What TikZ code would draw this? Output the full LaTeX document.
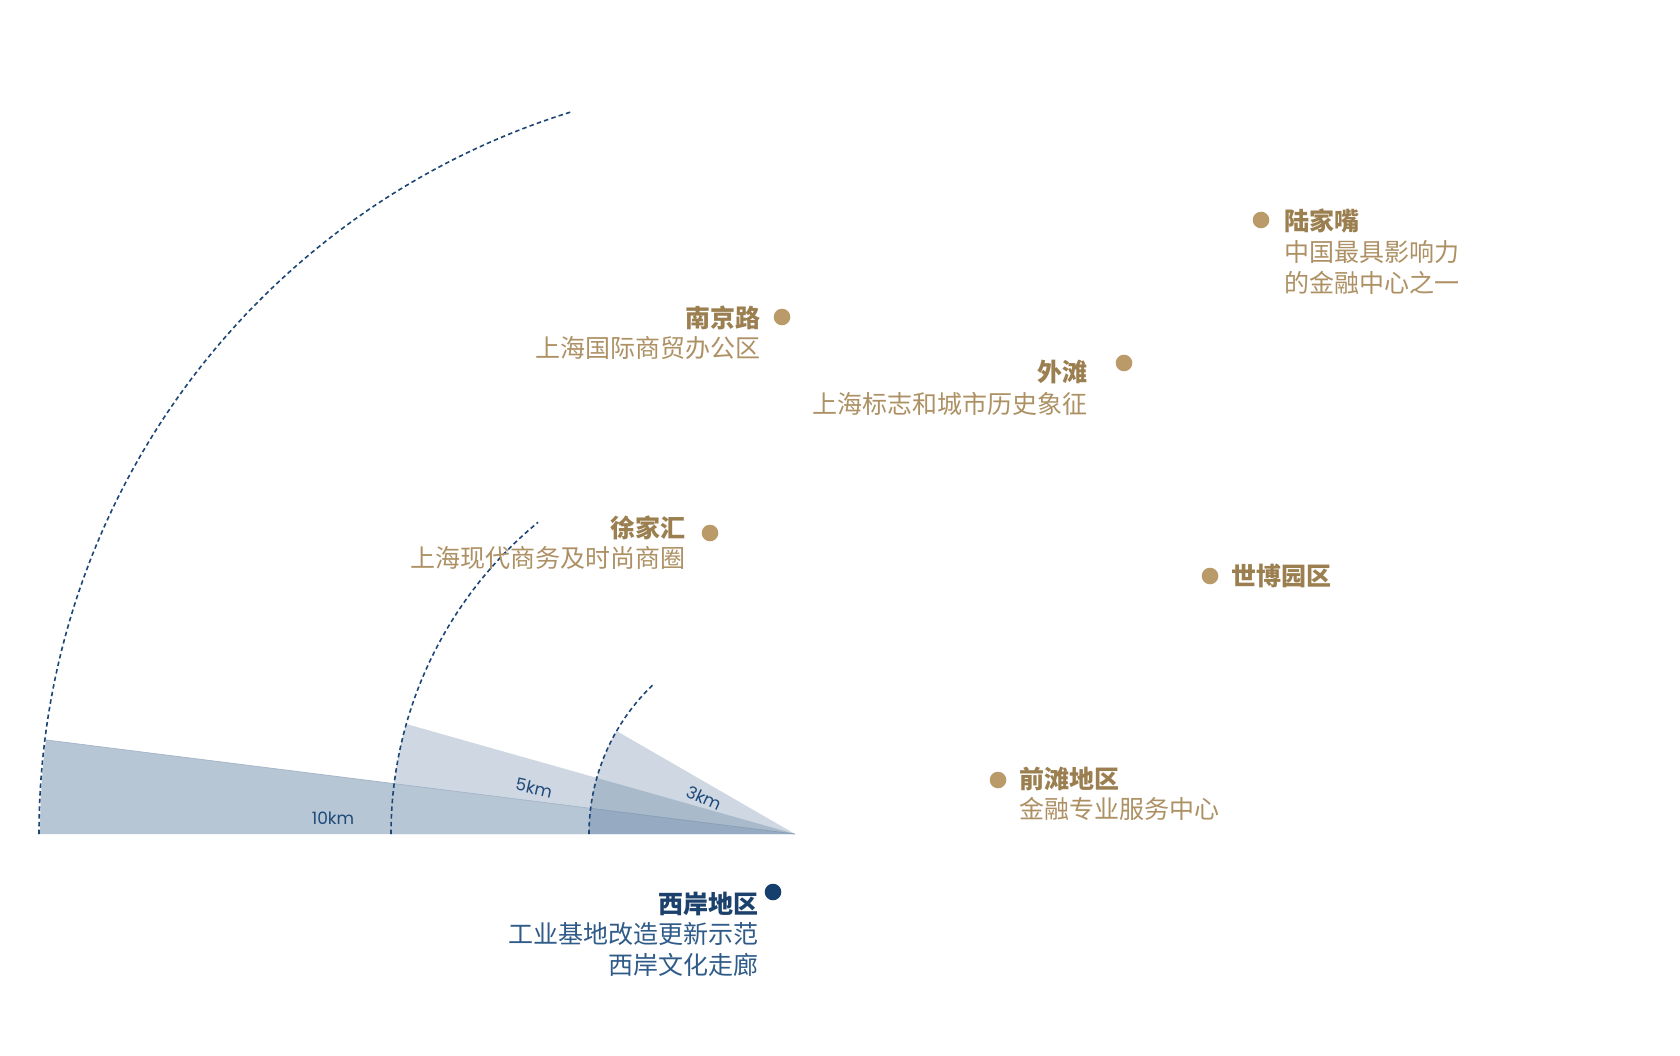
\documentclass[tikz,border=0pt]{standalone}
\usepackage{fontspec}
\newfontfamily\cjk{Noto Sans CJK SC}
\newfontfamily\kmfont{Poppins}
\definecolor{golddot}{HTML}{BA9A69}
\definecolor{goldtitle}{HTML}{9B7F50}
\definecolor{goldsub}{HTML}{AD9164}
\definecolor{navydot}{HTML}{15406E}
\definecolor{navytitle}{HTML}{1B416C}
\definecolor{navysub}{HTML}{2F5B88}
\definecolor{arcc}{HTML}{1D4677}
\definecolor{navyb}{HTML}{1E4B78}
\definecolor{tenc}{HTML}{B7C6D5}
\definecolor{edgec}{HTML}{A3B4C6}
\definecolor{kmc}{HTML}{1E4A7A}
\begin{document}
\begin{tikzpicture}[x=1pt,y=-1pt,
  gdot/.style={circle,fill=golddot,inner sep=0pt,minimum size=16.6pt},
  ndot/.style={circle,fill=navydot,inner sep=0pt,minimum size=16.6pt},
  gtitle/.style={inner sep=0pt,font=\cjk\bfseries\fontsize{25}{30}\selectfont,text=goldtitle},
  gsub/.style={inner sep=0pt,font=\cjk\fontsize{25}{30}\selectfont,text=goldsub},
  ntitle/.style={inner sep=0pt,font=\cjk\bfseries\fontsize{25}{30}\selectfont,text=navytitle},
  nsub/.style={inner sep=0pt,font=\cjk\fontsize{25}{30}\selectfont,text=navysub},
  arcline/.style={draw=arcc,line width=1.6pt,dash pattern=on 4.5pt off 3.2pt},
  kmlabel/.style={inner sep=0pt,font=\kmfont\fontsize{17}{19}\selectfont,text=kmc}]
\useasboundingbox (0,0) rectangle (1680,1056);
\fill[white] (0,0) rectangle (1680,1056);

\coordinate (A) at (795,834);
\path (A) ++(187.16:755) coordinate (T10);

% wedges
\fill[navyb,fill opacity=.21] (A) -- ++(180:404) arc[start angle=180,end angle=195.8,radius=404] -- cycle;
\fill[tenc] (A) -- ++(180:755) arc[start angle=180,end angle=187.16,radius=755] -- cycle;
\draw[edgec,line width=.7pt] (A) -- (T10);
\fill[navyb,fill opacity=.21] (A) -- ++(180:206) arc[start angle=180,end angle=210,radius=206] -- cycle;

% dashed arcs
\draw[arcline] (A) ++(180:756) arc[start angle=180,end angle=252.9,radius=756];
\draw[arcline] (A) ++(180:404) arc[start angle=180,end angle=230.5,radius=404];
\draw[arcline] (A) ++(180:206) arc[start angle=180,end angle=226.8,radius=206];

% km labels
\node[kmlabel] (km10) at (333,818) {10km};
\node[kmlabel,rotate=-13] (km5) at (534,788) {5km};
\node[kmlabel,rotate=-25] (km3) at (704,798) {3km};

% Lujiazui
\node[gdot] (dLJZ) at (1261,220) {};
\node[gtitle,anchor=base west] (tLJZ) at (1284,230.5) {陆家嘴};
\node[gsub,anchor=base west] (sLJZa) at (1284,261.5) {中国最具影响力};
\node[gsub,anchor=base west] (sLJZb) at (1284,292.5) {的金融中心之一};

% Nanjing Road
\node[gdot] (dNJL) at (782,317) {};
\node[gtitle,anchor=base east] (tNJL) at (761,327.5) {南京路};
\node[gsub,anchor=base east] (sNJL) at (761,357.5) {上海国际商贸办公区};

% Bund
\node[gdot] (dWT) at (1124,363) {};
\node[gtitle,anchor=base east] (tWT) at (1088,381.5) {外滩};
\node[gsub,anchor=base east] (sWT) at (1088,413.5) {上海标志和城市历史象征};

% Xujiahui
\node[gdot] (dXJH) at (710,533) {};
\node[gtitle,anchor=base east] (tXJH) at (686,537.5) {徐家汇};
\node[gsub,anchor=base east] (sXJH) at (686,567.5) {上海现代商务及时尚商圈};

% Expo
\node[gdot] (dSB) at (1210,576) {};
\node[gtitle,anchor=base west] (tSB) at (1231,585.5) {世博园区};

% Qiantan
\node[gdot] (dQT) at (998,780) {};
\node[gtitle,anchor=base west] (tQT) at (1019,788.5) {前滩地区};
\node[gsub,anchor=base west] (sQT) at (1019,818.5) {金融专业服务中心};

% West Bund
\node[ndot] (dXA) at (773,892) {};
\node[ntitle,anchor=base east] (tXA) at (759,913.5) {西岸地区};
\node[nsub,anchor=base east] (sXAa) at (759,943.5) {工业基地改造更新示范};
\node[nsub,anchor=base east] (sXAb) at (759,974.5) {西岸文化走廊};
\end{tikzpicture}
\end{document}
